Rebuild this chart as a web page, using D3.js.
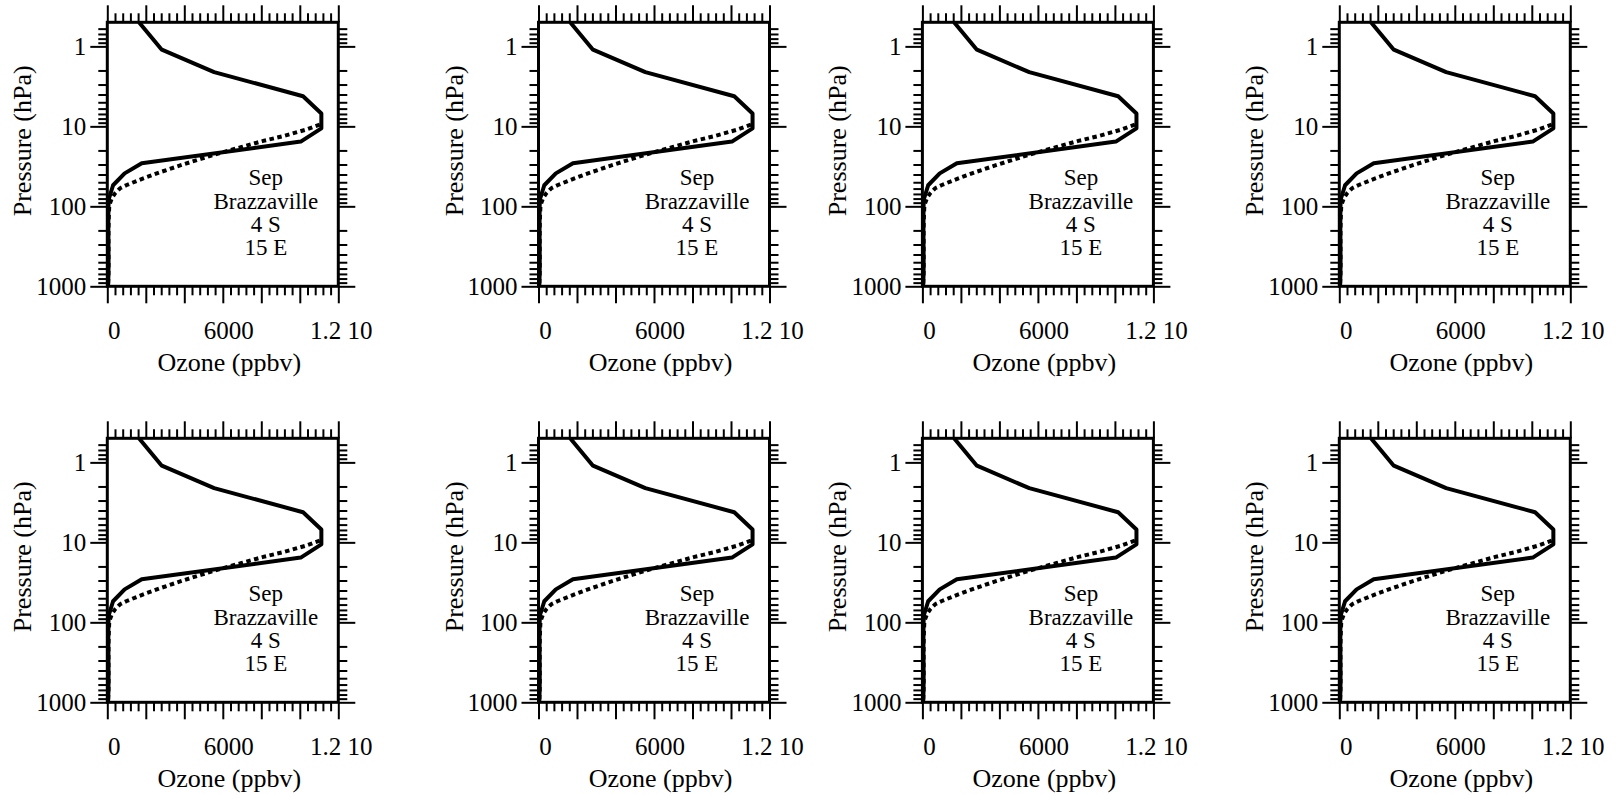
<!DOCTYPE html>
<html>
<head>
<meta charset="utf-8">
<script src="https://cdn.jsdelivr.net/npm/d3@7"></script>
<style>
  body { margin: 0; background: #fff; }
  svg { display: block; font-family: "Liberation Serif", "Times New Roman", serif; }
</style>
</head>
<body>
<svg id="chart" width="1617" height="795"></svg>
<script>
// profile data (pressure in hPa, ozone in ppbv)
const solidPressure = [0.5, 1.1, 2.1, 4.2, 6.9, 10.6, 15.5, 29, 38.7, 54.5, 81, 100, 150, 200, 300, 500, 700, 1000];
const solidOzone = [1645, 2830, 5550, 10170, 11120, 11120, 10050, 1790, 900, 300, 80, 60, 55, 55, 60, 65, 60, 40];

const dottedPressure = [9.5, 11.1, 13.1, 15.2, 18.1, 21.6, 25.3, 30.4, 36.9, 44.7, 54.1, 59.5, 68.9, 79.6, 92, 100, 150, 200, 300, 500, 700, 1000];
const dottedOzone = [11040, 10260, 9220, 8100, 6980, 5850, 4900, 3860, 2820, 1870, 1010, 660, 400, 230, 140, 100, 70, 60, 60, 65, 60, 40];

// axes
const xDomain = [0, 12000];
const yDomain = [0.5, 1000];
const xMajorTicks = [0, 2000, 4000, 6000, 8000, 10000, 12000];
const xLabelValues = [0, 6000, 12000];
const xLabelTexts = ["0", "6000", "1.2 10"];
const yMajorTicks = [1, 10, 100, 1000];
const yLabelTexts = ["1", "10", "100", "1000"];

const xTitle = "Ozone (ppbv)";
const yTitle = "Pressure (hPa)";
const infoLines = ["Sep", "Brazzaville", "4 S", "15 E"];

// layout of the 4 x 2 grid (frame corners in pixels)
const colLefts = [107.3, 538.5, 922.4, 1339.3];
const rowTops = [22.3, 438.3];
const W = 231, H = 264;
const majorLen = 17, minorLen = 9;
const xLabelShift = [7, 6, 3];

const xMinorTicks = d3.range(0, 12001, 400).filter((v) => v % 2000 !== 0);
const yMinorTicks = [];
[0.1, 1, 10, 100].forEach((dec) => {
  for (let k = 2; k <= 9; k++) {
    const v = +(k * dec).toFixed(4);
    if (v > yDomain[0] && v < yDomain[1]) yMinorTicks.push(v);
  }
});

const svg = d3.select("#chart");

const addAxis = (g, axis, tx, ty) => {
  const a = g
    .append("g")
    .attr("transform", `translate(${tx},${ty})`)
    .call(axis);
  a.select(".domain").remove();
  a.selectAll("line").attr("stroke", "#000").attr("stroke-width", 2);
  a.attr("font-family", null).attr("font-size", 25);
  a.selectAll("text").attr("fill", "#000");
  return a;
};

const drawPanel = (left, top) => {
  const g = svg.append("g").attr("transform", `translate(${left},${top})`);

  const x = d3.scaleLinear().domain(xDomain).range([0, W]);
  const y = d3.scaleLog().domain(yDomain).range([0, H]);

  // ticks on all four sides, pointing outward
  addAxis(g, d3.axisBottom(x).tickValues(xMajorTicks).tickSize(majorLen).tickFormat(""), 0, H);
  addAxis(g, d3.axisBottom(x).tickValues(xMinorTicks).tickSize(minorLen).tickFormat(""), 0, H);
  addAxis(g, d3.axisTop(x).tickValues(xMajorTicks).tickSize(majorLen).tickFormat(""), 0, 0);
  addAxis(g, d3.axisTop(x).tickValues(xMinorTicks).tickSize(minorLen).tickFormat(""), 0, 0);

  addAxis(
    g,
    d3.axisLeft(y).tickValues(yMajorTicks).tickSize(majorLen).tickPadding(4)
      .tickFormat((d, i) => yLabelTexts[i]),
    0, 0
  );
  addAxis(g, d3.axisLeft(y).tickValues(yMinorTicks).tickSize(minorLen).tickFormat(""), 0, 0);
  addAxis(g, d3.axisRight(y).tickValues(yMajorTicks).tickSize(majorLen).tickFormat(""), W, 0);
  addAxis(g, d3.axisRight(y).tickValues(yMinorTicks).tickSize(minorLen).tickFormat(""), W, 0);

  // x tick labels
  g.selectAll(".xlab")
    .data(xLabelValues)
    .enter()
    .append("text")
    .attr("class", "xlab")
    .attr("x", (d, i) => x(d) + xLabelShift[i])
    .attr("y", H + 53)
    .attr("text-anchor", "middle")
    .attr("font-size", 25)
    .text((d, i) => xLabelTexts[i]);

  // axis titles
  g.append("text")
    .attr("x", W / 2 + 6.5)
    .attr("y", H + 85)
    .attr("text-anchor", "middle")
    .attr("font-size", 26)
    .text(xTitle);

  g.append("text")
    .attr("transform", `translate(-76,${118.5}) rotate(-90)`)
    .attr("text-anchor", "middle")
    .attr("font-size", 26)
    .text(yTitle);

  // profiles
  const line = d3.line().x((d) => x(d[1])).y((d) => y(d[0]));

  g.append("path")
    .datum(d3.zip(solidPressure, solidOzone))
    .attr("d", line)
    .attr("fill", "none")
    .attr("stroke", "#000")
    .attr("stroke-width", 4)
    .attr("stroke-linejoin", "round");

  g.append("path")
    .datum(d3.zip(dottedPressure, dottedOzone))
    .attr("d", line)
    .attr("fill", "none")
    .attr("stroke", "#000")
    .attr("stroke-width", 4)
    .attr("stroke-dasharray", "4.5,3.5");

  // frame
  g.append("rect")
    .attr("width", W)
    .attr("height", H)
    .attr("fill", "none")
    .attr("stroke", "#000")
    .attr("stroke-width", 3);

  // station info
  g.selectAll(".info")
    .data(infoLines)
    .enter()
    .append("text")
    .attr("class", "info")
    .attr("x", 158.5)
    .attr("y", (d, i) => 163 + i * 23.3)
    .attr("text-anchor", "middle")
    .attr("font-size", 23)
    .text((d) => d);
};

rowTops.forEach((top) => {
  colLefts.forEach((left) => drawPanel(left, top));
});
</script>
</body>
</html>
